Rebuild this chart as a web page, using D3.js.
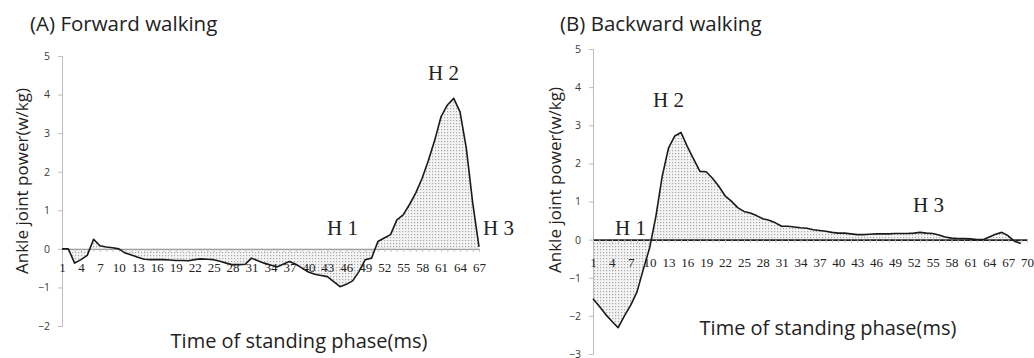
<!DOCTYPE html>
<html>
<head>
<meta charset="utf-8">
<script src="https://cdn.jsdelivr.net/npm/d3@7"></script>
<style>
  body { margin: 0; background: #fff; }
  svg { display: block; }
  .title { font-family: "Open Sans", sans-serif; font-size: 20.5px; fill: #222; }
  .ytitle { font-family: "Open Sans", sans-serif; font-size: 17px; fill: #222; }
  .xtitle { font-family: "Open Sans", sans-serif; font-size: 20px; fill: #222; }
  .ylab text { font-family: "Open Sans", sans-serif; font-size: 10.5px; fill: #3a3a3a; }
  .xlab text { font-family: "Liberation Serif", "Times New Roman", serif; font-size: 13px; fill: #222; }
  .hlab { font-family: "Liberation Serif", "Times New Roman", serif; font-size: 21px; fill: #222; }
</style>
</head>
<body>
<div id="chart"></div>
<script>
// categories (time points)
var forwardCats = d3.range(1, 68);
var backwardCats = d3.range(1, 71);

// ankle joint power (w/kg)
var forwardPower = [0, 0, -0.37, -0.28, -0.17, 0.25, 0.08, 0.05, 0.03, 0,
  -0.11, -0.16, -0.22, -0.27, -0.28, -0.28, -0.28, -0.29, -0.3, -0.3,
  -0.31, -0.28, -0.26, -0.27, -0.28, -0.32, -0.37, -0.41, -0.41, -0.4,
  -0.24, -0.31, -0.37, -0.42, -0.47, -0.4, -0.33, -0.4, -0.5, -0.6,
  -0.66, -0.69, -0.72, -0.85, -0.98, -0.92, -0.83, -0.59, -0.28, -0.24,
  0.19, 0.28, 0.37, 0.75, 0.88, 1.15, 1.45, 1.83, 2.3, 2.82,
  3.43, 3.73, 3.9, 3.55, 2.6, 1.2, 0.05];

var backwardPower = [-1.55, -1.75, -1.96, -2.14, -2.31, -2.0, -1.72, -1.37, -0.78, -0.22,
  0.61, 1.66, 2.4, 2.72, 2.81, 2.44, 2.11, 1.79, 1.78, 1.61,
  1.4, 1.15, 1.01, 0.84, 0.74, 0.7, 0.63, 0.55, 0.51, 0.44,
  0.35, 0.35, 0.33, 0.31, 0.3, 0.26, 0.24, 0.22, 0.19, 0.17,
  0.17, 0.15, 0.13, 0.13, 0.14, 0.15, 0.15, 0.15, 0.16, 0.16,
  0.16, 0.17, 0.19, 0.17, 0.16, 0.12, 0.07, 0.04, 0.03, 0.03,
  0.02, 0, 0, 0.07, 0.14, 0.19, 0.1, -0.04, -0.1, null];

var yTicksA = [-2, -1, 0, 1, 2, 3, 4, 5];
var yTicksB = [-3, -2, -1, 0, 1, 2, 3, 4, 5];

var W = 1034, H = 358;

var svg = d3.select("#chart").append("svg")
  .attr("width", W)
  .attr("height", H);

var defs = svg.append("defs");
var pat = defs.append("pattern")
  .attr("id", "dots")
  .attr("width", 3)
  .attr("height", 3)
  .attr("patternUnits", "userSpaceOnUse");
pat.append("rect").attr("width", 3).attr("height", 3).attr("fill", "#f4f4f4");
pat.append("rect").attr("width", 1.2).attr("height", 1.2).attr("fill", "#a8a8a8");

function drawPanel(p) {
  var g = svg.append("g");

  var x = d3.scalePoint()
    .domain(p.cats)
    .range([p.x0, p.x1]);

  var y = d3.scaleLinear()
    .domain([d3.min(p.yTicks), d3.max(p.yTicks)])
    .range([p.yBottom, p.yTop]);

  var pts = p.cats.map(function(c, i) { return { c: c, v: p.values[i] }; })
    .filter(function(d) { return d.v != null; });

  // dotted fill between curve and zero
  var area = d3.area()
    .x(function(d) { return x(d.c); })
    .y0(y(0))
    .y1(function(d) { return y(d.v); });

  g.append("path")
    .datum(pts)
    .attr("d", area)
    .attr("fill", "url(#dots)");

  // y axis
  var yAxis = g.append("g")
    .attr("class", "ylab")
    .attr("transform", "translate(" + p.x0 + ",0)")
    .call(d3.axisLeft(y).tickValues(p.yTicks).tickSize(4).tickPadding(8).tickFormat(d3.format("d")));
  yAxis.select(".domain").attr("stroke", "#bdbdbd");
  yAxis.selectAll(".tick line").attr("stroke", "#bdbdbd");

  // x axis at zero
  var xAxis = g.append("g")
    .attr("class", "xlab")
    .attr("transform", "translate(0," + y(0) + ")")
    .call(d3.axisBottom(x).tickSize(3).tickSizeOuter(0).tickPadding(p.xPad)
      .tickFormat(function(d) { return (d - 1) % 3 === 0 ? d : ""; }));
  xAxis.select(".domain").attr("stroke", p.zeroColor).attr("stroke-width", p.zeroWidth);
  xAxis.selectAll(".tick line").attr("stroke", "#bdbdbd");

  // the curve
  var line = d3.line()
    .x(function(d) { return x(d.c); })
    .y(function(d) { return y(d.v); });

  g.append("path")
    .datum(pts)
    .attr("d", line)
    .attr("fill", "none")
    .attr("stroke", "#1a1a1a")
    .attr("stroke-width", 1.6)
    .attr("stroke-linejoin", "round");

  // titles
  g.append("text").attr("class", "title")
    .attr("x", p.titleX).attr("y", p.titleY)
    .text(p.title);

  g.append("text").attr("class", "ytitle")
    .attr("text-anchor", "middle")
    .attr("transform", "translate(" + p.yTitleX + "," + p.yTitleY + ") rotate(-90)")
    .text("Ankle joint power(w/kg)");

  g.append("text").attr("class", "xtitle")
    .attr("text-anchor", "middle")
    .attr("x", p.xTitleX).attr("y", p.xTitleY)
    .text("Time of standing phase(ms)");

  p.marks.forEach(function(m) {
    g.append("text").attr("class", "hlab")
      .attr("x", m[1]).attr("y", m[2])
      .text(m[0]);
  });
}

drawPanel({
  cats: forwardCats, values: forwardPower, yTicks: yTicksA,
  x0: 62, x1: 479, yTop: 56, yBottom: 326,
  xPad: 11, zeroColor: "#9a9a9a", zeroWidth: 1.2,
  title: "(A) Forward walking", titleX: 30, titleY: 31,
  yTitleX: 28, yTitleY: 181, xTitleX: 299, xTitleY: 348,
  marks: [["H 2", 428, 80], ["H 1", 327, 235], ["H 3", 483, 235]]
});

drawPanel({
  cats: backwardCats, values: backwardPower, yTicks: yTicksB,
  x0: 593, x1: 1027, yTop: 49, yBottom: 354,
  xPad: 15, zeroColor: "#222", zeroWidth: 1.8,
  title: "(B) Backward walking", titleX: 560, titleY: 31,
  yTitleX: 561, yTitleY: 180, xTitleX: 828, xTitleY: 335,
  marks: [["H 2", 653, 107], ["H 1", 615, 235], ["H 3", 913, 212]]
});
</script>
</body>
</html>
